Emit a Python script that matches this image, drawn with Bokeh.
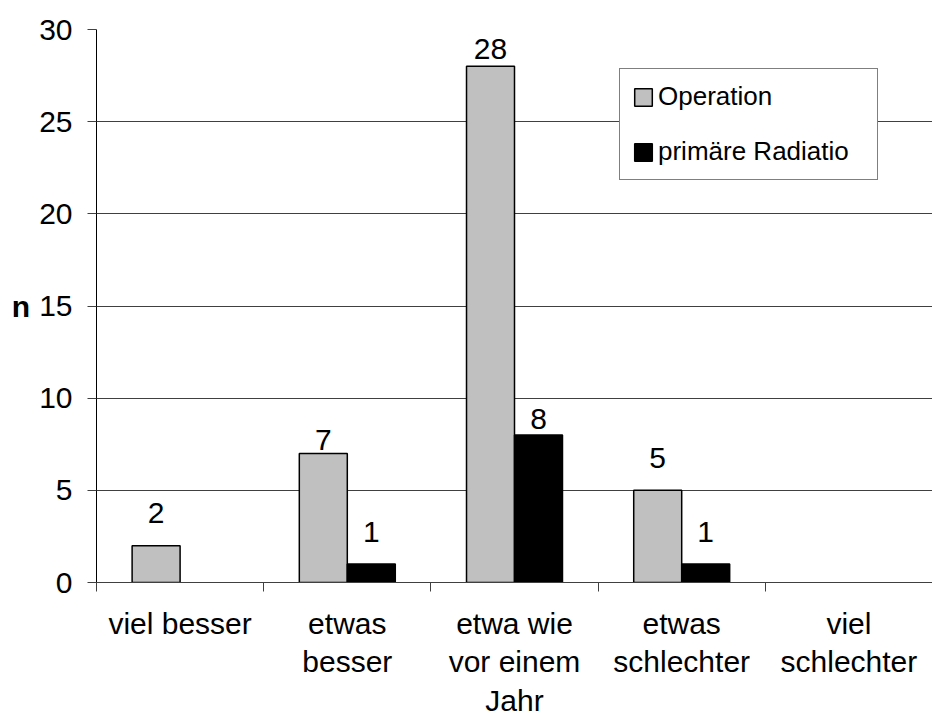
from bokeh.plotting import figure
from bokeh.models import (ColumnDataSource, Range1d, FixedTicker, Legend,
                          LegendItem)
from bokeh.core.properties import value
from bokeh.embed import file_html
from bokeh.resources import INLINE

# --- data -----------------------------------------------------------------
categories = ["viel besser", "etwas\nbesser", "etwa wie\nvor einem\nJahr",
              "etwas\nschlechter", "viel\nschlechter"]
operation = [2, 7, 28, 5, 0]
radiatio = [0, 1, 8, 1, 0]
series_names = ["Operation", "primäre Radiatio"]
y_ticks = [0, 5, 10, 15, 20, 25, 30]
y_label = "n"

# --- style ------------------------------------------------------------------
FONT = "Liberation Sans"
GRAY = "#C0C0C0"
LINE = "#404040"
BAR_W = 0.287
# pixel distance from each bar top to the middle of its value label
op_lift = [33, 13, 17, 32, 0]
rad_lift = [0, 32, 16, 32, 0]

centers = [i + 0.5 for i in range(len(categories))]

p = figure(frame_width=836, frame_height=553,
           x_range=Range1d(0, len(categories)), y_range=Range1d(0, 30),
           output_backend="svg", toolbar_location=None,
           min_border_left=96, min_border_right=0,
           min_border_top=29, min_border_bottom=131)
p.outline_line_color = None
p.background_fill_color = "white"
p.border_fill_color = "white"

# gridlines
p.xgrid.grid_line_color = None
p.ygrid.ticker = FixedTicker(ticks=y_ticks)
p.ygrid.grid_line_color = LINE
p.ygrid.grid_line_width = 1


def series_source(offset, vals, lifts):
    """Bars with a value of zero are not drawn."""
    keep = [i for i, v in enumerate(vals) if v > 0]
    return ColumnDataSource(dict(
        x=[centers[i] + offset for i in keep],
        top=[vals[i] for i in keep],
        text=[str(vals[i]) for i in keep],
        off=[-lifts[i] for i in keep],
    ))


op_src = series_source(-BAR_W / 2, operation, op_lift)
rad_src = series_source(BAR_W / 2, radiatio, rad_lift)

r_op = p.vbar(x="x", top="top", width=BAR_W, source=op_src,
              fill_color=GRAY, line_color="black", line_width=1.5)
r_rad = p.vbar(x="x", top="top", width=BAR_W, source=rad_src,
               fill_color="black", line_color="black", line_width=1.5)

# value labels above the bars
for src in (op_src, rad_src):
    p.text(x="x", y="top", text="text", source=src, y_offset="off",
           text_align="center", text_baseline="middle",
           text_font=value(FONT), text_font_size="30px", text_color="black")

# y axis, with its title written horizontally beside the scale
yax = p.yaxis[0]
yax.ticker = FixedTicker(ticks=y_ticks)
yax.axis_line_color = "black"
yax.axis_line_width = 1
yax.major_tick_line_color = LINE
yax.major_tick_out = 9
yax.major_tick_in = 0
yax.minor_tick_line_color = None
yax.major_label_standoff = 15
yax.major_label_text_font = FONT
yax.major_label_text_font_size = "30px"
yax.major_label_text_color = "black"
yax.axis_label = y_label
yax.axis_label_orientation = "horizontal"
yax.axis_label_standoff = 6
yax.axis_label_text_font = FONT
yax.axis_label_text_font_size = "30px"
yax.axis_label_text_font_style = "bold"
yax.axis_label_text_color = "black"

# x axis: boundary ticks as minor ticks, category names at centres
xax = p.xaxis[0]
xax.ticker = FixedTicker(ticks=centers,
                         minor_ticks=list(range(len(categories) + 1)))
xax.major_label_overrides = {c: name for c, name in zip(centers, categories)}
xax.axis_line_color = LINE
xax.major_tick_line_color = None
xax.major_tick_out = 0
xax.major_tick_in = 0
xax.minor_tick_line_color = LINE
xax.minor_tick_out = 9
xax.minor_tick_in = 0
xax.major_label_standoff = 15
xax.major_label_text_font = FONT
xax.major_label_text_font_size = "30px"
xax.major_label_text_color = "black"
xax.major_label_text_line_height = 1.18

# legend
legend = Legend(items=[LegendItem(label=series_names[0], renderers=[r_op]),
                       LegendItem(label=series_names[1], renderers=[r_rad])],
                location=(523, 402), orientation="vertical",
                padding=12, spacing=24, margin=0,
                glyph_width=22, glyph_height=22, label_standoff=4,
                label_width=207,
                label_text_font=FONT, label_text_font_size="26px",
                label_text_color="black",
                border_line_color="black", border_line_width=1,
                background_fill_color="white", background_fill_alpha=1)
p.add_layout(legend)

open("out.html", "w").write(file_html(p, INLINE))
